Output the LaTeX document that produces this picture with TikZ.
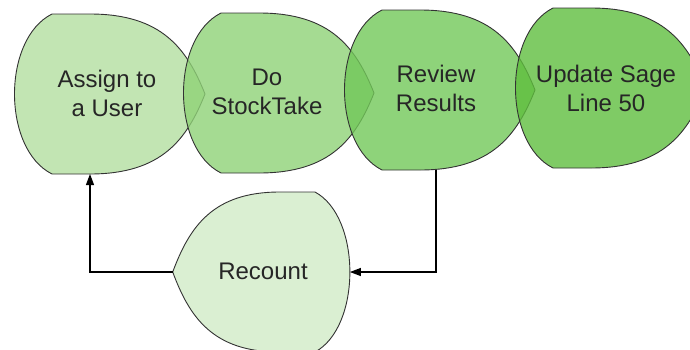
\documentclass[tikz,border=0pt]{standalone}
\usepackage{fontspec}
\setmainfont{Liberation Sans}
\usepackage{xcolor}
\usepackage{tikz}
\usetikzlibrary{arrows.meta}

\definecolor{stA}{RGB}{179,222,160}
\definecolor{stB}{RGB}{143,210,119}
\definecolor{stC}{RGB}{114,200,89}
\definecolor{stD}{RGB}{95,190,62}
\definecolor{stE}{RGB}{209,235,199}

\begin{document}
\begin{tikzpicture}[x=1pt,y=-1pt,
    leaf/.pic={
        \draw[pic actions] (0,-80) -- (38,-80) .. controls (110,-80) and (135,-45) .. (153,0)
            .. controls (135,45) and (110,80) .. (38,80) -- (0,80)
            .. controls (-50,55) and (-50,-55) .. cycle;
        \coordinate (-tip) at (153,0);
        \coordinate (-back) at (-37.5,0);
        \coordinate (-foot) at (38,80);
    },
    stage/.style={draw=black!80, line width=0.9pt, fill opacity=0.8},
    txt/.style={font=\fontsize{24}{29}\selectfont, align=center, text=black!85},
    flow/.style={draw=black, line width=1.1pt, -{Triangle[length=11pt,width=8pt]}}]
    \useasboundingbox (0,0) rectangle (690,349);
    \clip (0,0) rectangle (690,349);

    % stages
    \pic[stage, fill=stA] (s1) at (52,94) {leaf};
    \pic[stage, fill=stB] (s2) at (221,93) {leaf};
    \pic[stage, fill=stC] (s3) at (382,90) {leaf};
    \pic[stage, fill=stD] (s4) at (553,88) {leaf};
    \pic[stage, fill=stE, xscale=-0.93] (rc) at (315,272) {leaf};

    \node[txt] (assign) at (107,93) {Assign to\\a User};
    \node[txt] (stock) at (267,92) {Do\\StockTake};
    \node[txt] (review) at (436,88) {Review\\Results};
    \node[txt] (update) at (606,88) {Update Sage\\Line 50};
    \node[txt] (recount) at (263,271) {Recount};

    % loop back
    \draw[flow] (review |- s3-foot) |- (rc-back);
    \draw[flow] (rc-tip) -| (s1-foot);
\end{tikzpicture}
\end{document}
